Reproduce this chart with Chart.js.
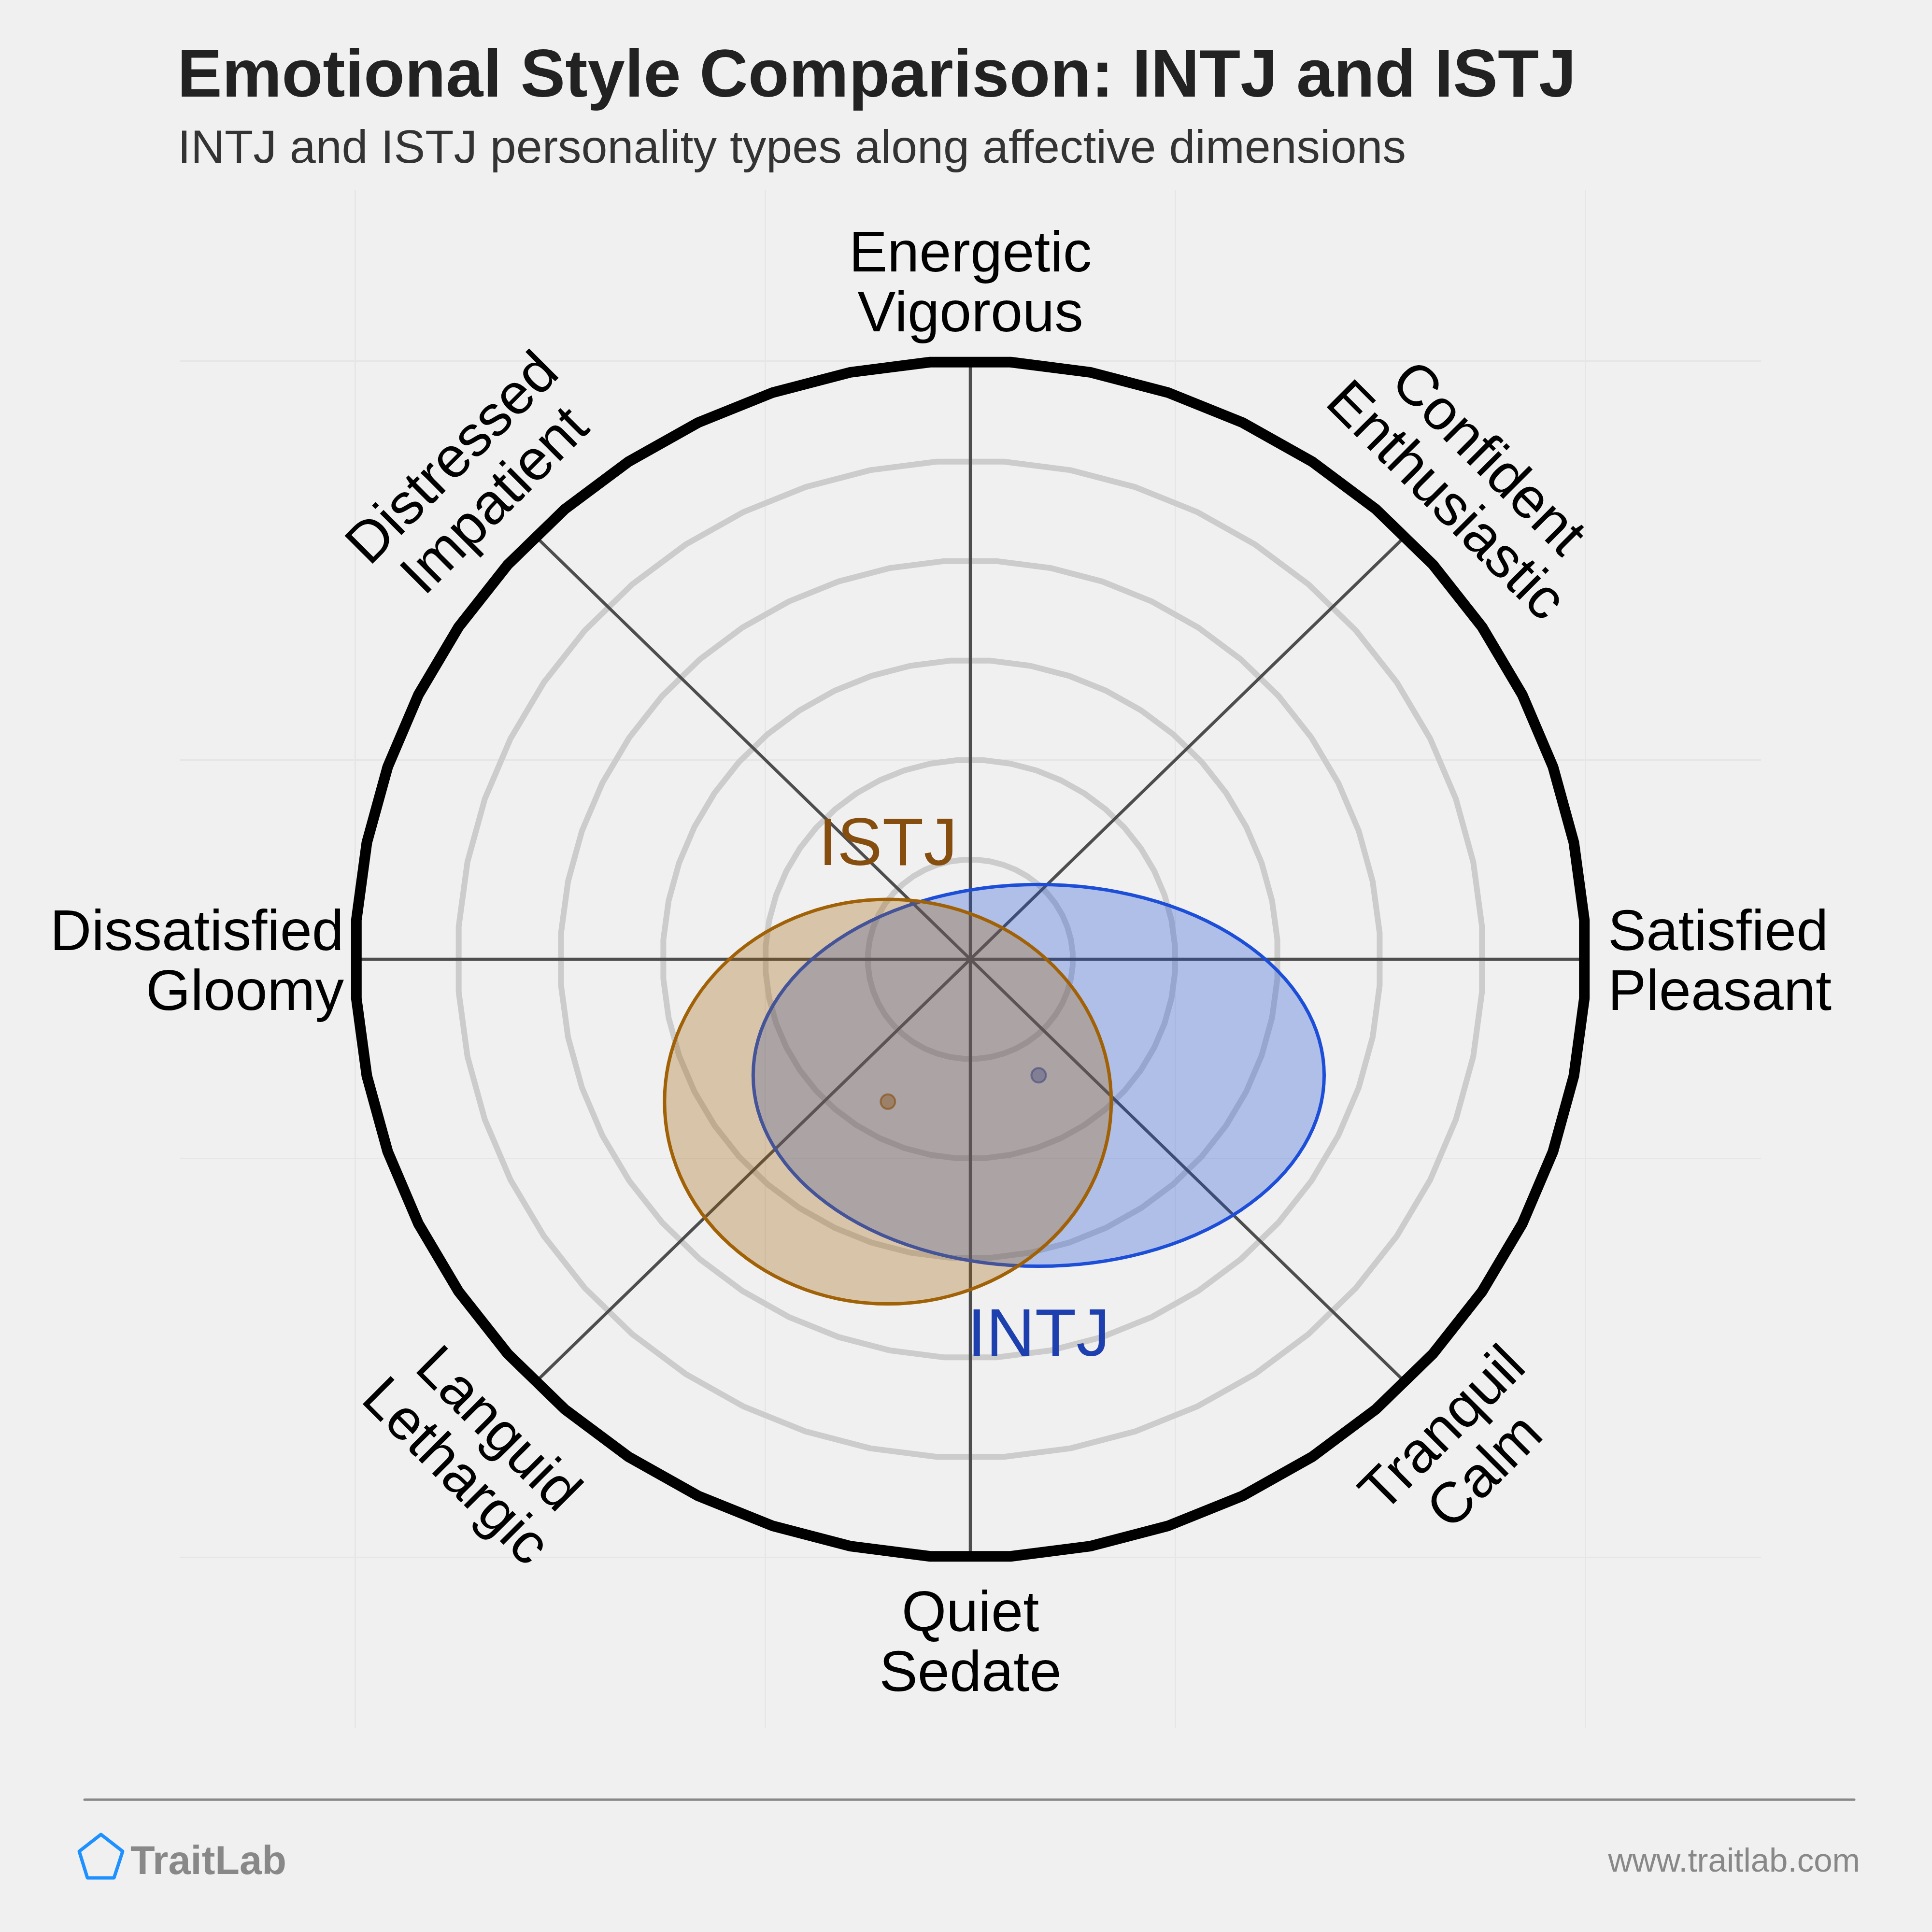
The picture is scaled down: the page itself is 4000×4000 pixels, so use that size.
<!DOCTYPE html>
<html>
<head>
<meta charset="utf-8">
<title>Emotional Style Comparison: INTJ and ISTJ</title>
<script src="https://cdn.jsdelivr.net/npm/chart.js@4.4.0/dist/chart.umd.min.js"></script>
<style>
  html, body { margin: 0; padding: 0; background: #f0f0f0; }
  #wrap { width: 4000px; height: 4000px; }
</style>
</head>
<body>
<div id="wrap"><canvas id="emotionChart" width="4000" height="4000"></canvas></div>
<script>
// personality types, each one an ellipse on the affect plane (outer ring = 1)
const types = ['INTJ', 'ISTJ'];
const centerX = [0.111, -0.134];
const centerY = [-0.194, -0.238];
const spreadX = [0.464, 0.363];
const spreadY = [0.319, 0.338];

// axis labels, clockwise from the top
const axisLabels = [
    ['Energetic', 'Vigorous'],
    ['Confident', 'Enthusiastic'],
    ['Satisfied', 'Pleasant'],
    ['Tranquil', 'Calm'],
    ['Quiet', 'Sedate'],
    ['Languid', 'Lethargic'],
    ['Dissatisfied', 'Gloomy'],
    ['Distressed', 'Impatient']
];

const ringLevels = [1 / 6, 2 / 6, 3 / 6, 4 / 6, 5 / 6, 1];
const gridTicks = [-1, -1 / 3, 1 / 3, 1];

const titleText = 'Emotional Style Comparison: INTJ and ISTJ';
const subtitleText = 'INTJ and ISTJ personality types along affective dimensions';

const FONT = '"Liberation Sans", Arial, Helvetica, sans-serif';

const typeStyle = {
    INTJ: { fill: 'rgba(29, 78, 216, 0.3)', stroke: '#1d4ed8', text: '#1e40af', dot: 'rgba(30, 64, 175, 0.4)', dotBorder: 'rgba(30, 64, 175, 0.6)', place: 'below' },
    ISTJ: { fill: 'rgba(161, 98, 7, 0.3)', stroke: '#a16207', text: '#854d0e', dot: 'rgba(133, 77, 14, 0.4)', dotBorder: 'rgba(133, 77, 14, 0.6)', place: 'above' }
};

// where each axis label block sits, relative to the wheel centre (px)
const labelPlace = [
    { dx: 0, dy: -1395, rot: 0, align: 'center' },
    { dx: 1025, dy: -990, rot: Math.PI / 4, align: 'center' },
    { dx: 1320, dy: 10, rot: 0, align: 'left' },
    { dx: 1025, dy: 1020, rot: -Math.PI / 4, align: 'center' },
    { dx: 0, dy: 1420, rot: 0, align: 'center' },
    { dx: -1025, dy: 1020, rot: Math.PI / 4, align: 'center' },
    { dx: -1297, dy: 10, rot: 0, align: 'right' },
    { dx: -1025, dy: -990, rot: -Math.PI / 4, align: 'center' }
];

function ringPath(ctx, cx, cy, rx, ry) {
    const n = 48;
    ctx.beginPath();
    for (let k = 0; k < n; k++) {
        const a = (k + 0.5) * 2 * Math.PI / n;
        const x = cx + rx * Math.sin(a);
        const y = cy - ry * Math.cos(a);
        if (k === 0) ctx.moveTo(x, y); else ctx.lineTo(x, y);
    }
    ctx.closePath();
}

function ellipsePx(chart, i) {
    const xs = chart.scales.x, ys = chart.scales.y;
    const px = xs.getPixelForValue(centerX[i]);
    const py = ys.getPixelForValue(centerY[i]);
    const rx = Math.abs(xs.getPixelForValue(centerX[i] + spreadX[i]) - px);
    const ry = Math.abs(ys.getPixelForValue(centerY[i] + spreadY[i]) - py);
    return { px, py, rx, ry };
}

function drawLines(ctx, lines, x, y, rot, align, lh) {
    ctx.save();
    ctx.translate(x, y);
    ctx.rotate(rot);
    ctx.textAlign = align;
    ctx.textBaseline = 'middle';
    lines.forEach((s, j) => ctx.fillText(s, 0, (j - (lines.length - 1) / 2) * lh));
    ctx.restore();
}

const wheelPlugin = {
    id: 'wheel',
    beforeDraw(chart) {
        const ctx = chart.ctx;
        ctx.save();
        ctx.fillStyle = '#f0f0f0';
        ctx.fillRect(0, 0, chart.width, chart.height);
        ctx.restore();
    },
    beforeDatasetsDraw(chart) {
        const ctx = chart.ctx;
        const xs = chart.scales.x, ys = chart.scales.y;
        const cx = xs.getPixelForValue(0), cy = ys.getPixelForValue(0);
        ctx.save();
        ctx.lineJoin = 'round';
        // grey rings
        ringLevels.slice(0, -1).forEach(lv => {
            ringPath(ctx, cx, cy, xs.getPixelForValue(lv) - cx, cy - ys.getPixelForValue(lv));
            ctx.strokeStyle = '#cccccc';
            ctx.lineWidth = 12;
            ctx.stroke();
        });
        // spokes
        const outer = ringLevels[ringLevels.length - 1];
        ctx.strokeStyle = '#4d4d4d';
        ctx.lineWidth = 6.5;
        for (let k = 0; k < 8; k++) {
            const a = k * Math.PI / 4;
            ctx.beginPath();
            ctx.moveTo(cx, cy);
            ctx.lineTo(xs.getPixelForValue(outer * Math.sin(a)), ys.getPixelForValue(outer * Math.cos(a)));
            ctx.stroke();
        }
        // outer ring
        ringPath(ctx, cx, cy, xs.getPixelForValue(outer) - cx, cy - ys.getPixelForValue(outer));
        ctx.strokeStyle = '#000000';
        ctx.lineWidth = 22;
        ctx.stroke();
        ctx.restore();
    },
    beforeDatasetDraw(chart, args) {
        const i = chart.data.datasets[args.index].typeIndex;
        const st = typeStyle[types[i]];
        const e = ellipsePx(chart, i);
        const ctx = chart.ctx;
        ctx.save();
        ctx.beginPath();
        ctx.ellipse(e.px, e.py, e.rx, e.ry, 0, 0, 2 * Math.PI);
        ctx.fillStyle = st.fill;
        ctx.fill();
        ctx.strokeStyle = st.stroke;
        ctx.lineWidth = 7;
        ctx.stroke();
        ctx.restore();
    },
    afterDatasetsDraw(chart) {
        const ctx = chart.ctx;
        const xs = chart.scales.x, ys = chart.scales.y;
        const cx = xs.getPixelForValue(0), cy = ys.getPixelForValue(0);
        ctx.save();
        // type names next to their ellipse
        ctx.font = '140px ' + FONT;
        ctx.textAlign = 'center';
        ctx.textBaseline = 'alphabetic';
        types.forEach((t, i) => {
            const e = ellipsePx(chart, i);
            const st = typeStyle[t];
            ctx.fillStyle = st.text;
            const y = st.place === 'above' ? e.py - e.ry - 71 : e.py + e.ry + 185;
            ctx.fillText(t, e.px, y);
        });
        // axis labels
        ctx.font = '119px ' + FONT;
        ctx.fillStyle = '#000000';
        axisLabels.forEach((lines, k) => {
            const p = labelPlace[k];
            drawLines(ctx, lines, cx + p.dx, cy + p.dy, p.rot, p.align, 124);
        });
        ctx.restore();
    },
    afterDraw(chart) {
        const ctx = chart.ctx;
        ctx.save();
        ctx.textBaseline = 'alphabetic';
        ctx.textAlign = 'left';
        ctx.fillStyle = '#222222';
        ctx.font = 'bold 139px ' + FONT;
        ctx.fillText(titleText, 367, 200);
        ctx.fillStyle = '#333333';
        ctx.font = '97px ' + FONT;
        ctx.fillText(subtitleText, 368, 337);

        // footer rule
        ctx.strokeStyle = '#888888';
        ctx.lineWidth = 5;
        ctx.lineCap = 'round';
        ctx.beginPath();
        ctx.moveTo(175, 3726);
        ctx.lineTo(3839, 3726);
        ctx.stroke();

        // logo pentagon
        ctx.strokeStyle = '#1e90ff';
        ctx.lineWidth = 7;
        ctx.lineJoin = 'round';
        ctx.beginPath();
        ctx.moveTo(209, 3798);
        ctx.lineTo(254, 3833);
        ctx.lineTo(236, 3888);
        ctx.lineTo(181, 3888);
        ctx.lineTo(164, 3833);
        ctx.closePath();
        ctx.stroke();

        ctx.fillStyle = '#888888';
        ctx.font = 'bold 83px ' + FONT;
        ctx.fillText('TraitLab', 270, 3880);
        ctx.font = '69px ' + FONT;
        ctx.textAlign = 'right';
        ctx.fillText('www.traitlab.com', 3851, 3875);
        ctx.restore();
    }
};

// INTJ first in the list, drawn first; ISTJ drawn over it
const datasets = types.map((t, i) => ({
    label: t,
    typeIndex: i,
    data: [{ x: centerX[i], y: centerY[i] }],
    pointRadius: 15,
    pointBorderWidth: 4,
    pointBackgroundColor: typeStyle[t].dot,
    pointBorderColor: typeStyle[t].dotBorder
})).reverse();

const axisOpts = {
    type: 'linear',
    min: -1.285,
    max: 1.285,
    afterBuildTicks: function (scale) {
        scale.ticks = gridTicks.map(v => ({ value: v }));
    },
    ticks: { display: false },
    border: { display: false },
    grid: { color: '#e6e6e6', lineWidth: 3, drawTicks: false }
};

new Chart(document.getElementById('emotionChart').getContext('2d'), {
    type: 'scatter',
    data: { datasets: datasets },
    options: {
        responsive: false,
        devicePixelRatio: 1,
        animation: false,
        layout: { padding: { left: 372, right: 354, top: 394, bottom: 422 } },
        plugins: {
            legend: { display: false },
            tooltip: { enabled: false },
            title: { display: false }
        },
        scales: {
            x: Object.assign({}, axisOpts, { position: 'bottom' }),
            y: Object.assign({}, axisOpts, { position: 'left' })
        }
    },
    plugins: [wheelPlugin]
});
</script>
</body>
</html>
